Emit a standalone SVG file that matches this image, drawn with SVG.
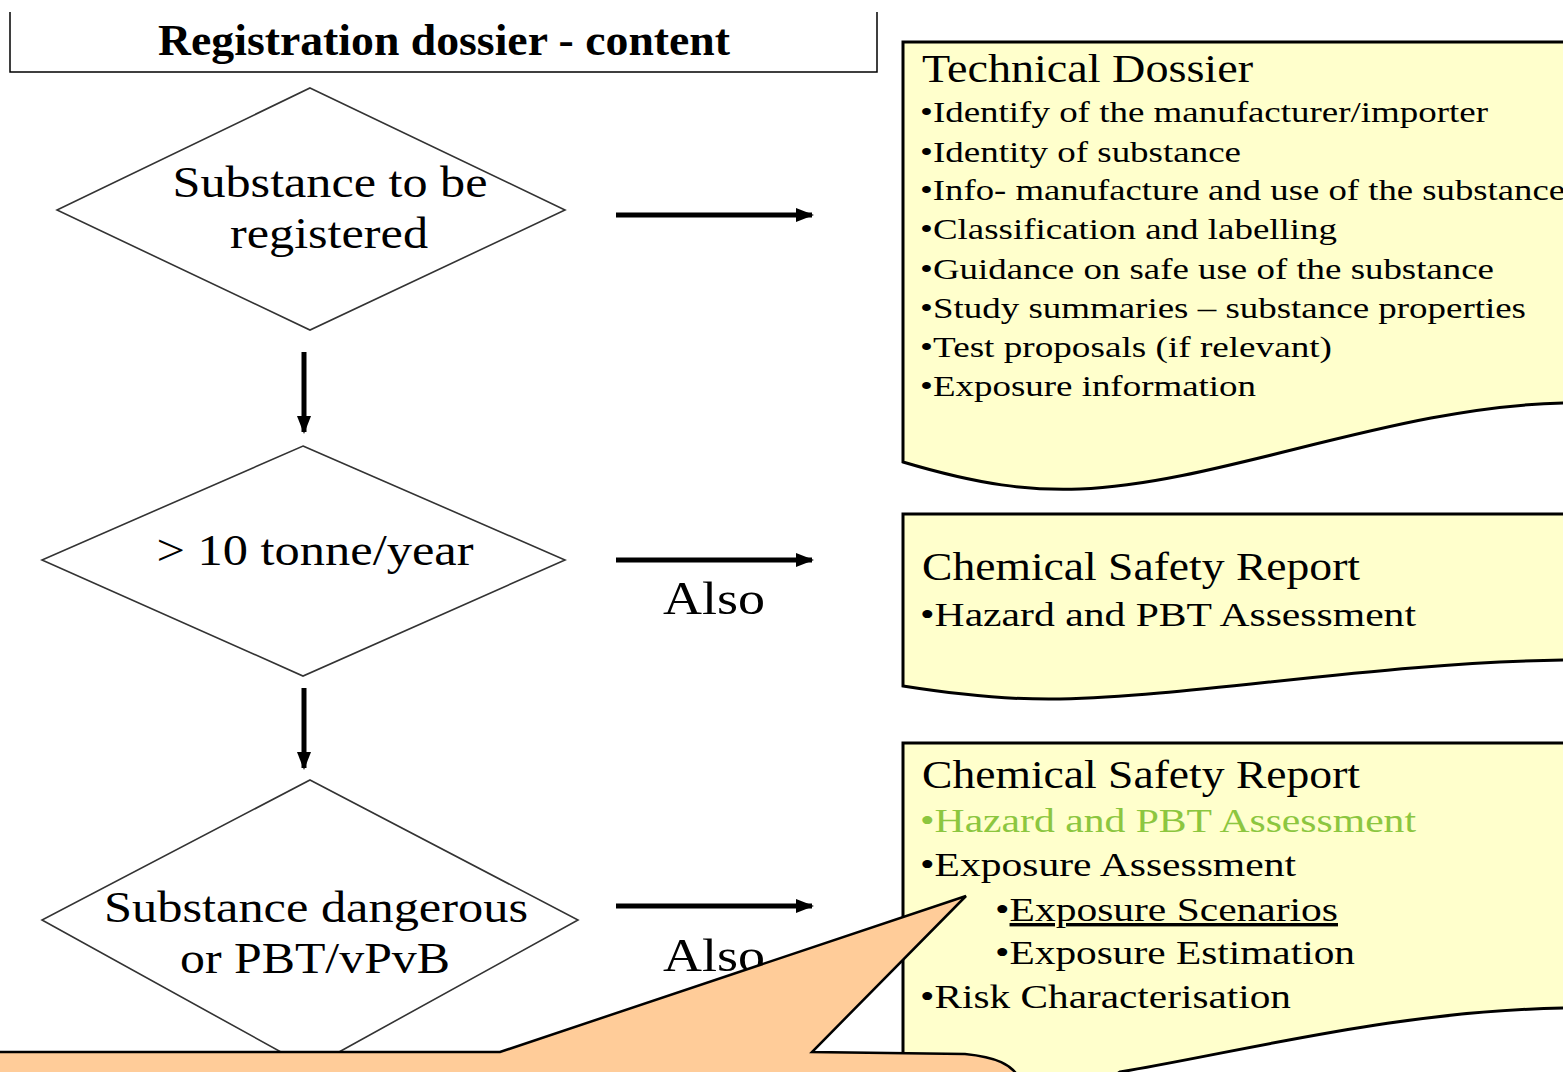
<svg xmlns="http://www.w3.org/2000/svg" width="1563" height="1072" viewBox="0 0 1563 1072">
<style>
  text { font-family: "Liberation Serif", "Times New Roman", serif; fill: #000; }
  .title { font-size: 44px; font-weight: bold; }
  .dia { fill: #fff; stroke: #333; stroke-width: 1.6; }
  .dt { font-size: 44px; text-anchor: middle; }
  .also { font-size: 46px; }
  .doc { fill: #FFFFCC; stroke: #000; stroke-width: 3; }
  .h { font-size: 40px; }
  .b { font-size: 30px; }
  .b2 { font-size: 34px; }
  .green { fill: #8CC63F; }
  .conn { stroke: #000; stroke-width: 5; fill: none; }
  .call { fill: #FFCC99; stroke: #000; stroke-width: 2.5; stroke-linejoin: miter; }
  .ul { text-decoration: underline; }
</style>
<defs>
  <marker id="ah" markerUnits="userSpaceOnUse" markerWidth="18" markerHeight="18" viewBox="0 0 18 18" refX="16" refY="9" orient="auto">
    <path d="M0,2 L18,9 L0,16 Z" fill="#000"/>
  </marker>
</defs>

<g id="title">
  <path d="M10,12 L10,72 L877,72 L877,12" fill="none" stroke="#000" stroke-width="1.5"/>
  <text class="title" x="158" y="55" textLength="572" lengthAdjust="spacingAndGlyphs">Registration dossier - content</text>
</g>

<g id="connectors">
  <line class="conn" x1="304" y1="352" x2="304" y2="432" marker-end="url(#ah)"/>
  <line class="conn" x1="304" y1="688" x2="304" y2="768" marker-end="url(#ah)"/>
  <line class="conn" x1="616" y1="215" x2="812" y2="215" marker-end="url(#ah)"/>
  <line class="conn" x1="616" y1="560" x2="812" y2="560" marker-end="url(#ah)"/>
  <line class="conn" x1="616" y1="906" x2="812" y2="906" marker-end="url(#ah)"/>
  <text class="also" x="663" y="614" textLength="102" lengthAdjust="spacingAndGlyphs">Also</text>
  <text class="also" x="663" y="971" textLength="102" lengthAdjust="spacingAndGlyphs">Also</text>
</g>

<g id="node-substance">
  <polygon class="dia" points="310,88 565,210 310,330 57,210"/>
  <text class="dt" x="330" y="197" textLength="315" lengthAdjust="spacingAndGlyphs">Substance to be</text>
  <text class="dt" x="329" y="248" textLength="198" lengthAdjust="spacingAndGlyphs">registered</text>
</g>

<g id="node-tonnage">
  <polygon class="dia" points="303,446 565,560 303,676 42,560"/>
  <text class="dt" x="315" y="565" textLength="317" lengthAdjust="spacingAndGlyphs">&gt; 10 tonne/year</text>
</g>

<g id="node-dangerous">
  <polygon class="dia" points="310,780 578,920 310,1068 42,920"/>
  <text class="dt" x="316" y="922" textLength="424" lengthAdjust="spacingAndGlyphs">Substance dangerous</text>
  <text class="dt" x="315" y="973" textLength="270" lengthAdjust="spacingAndGlyphs">or PBT/vPvB</text>
</g>

<g id="doc-technical">
  <path class="doc" d="M903,42 L1570,42 L1570,403 C1400,404 1220,484 1080,489 C1030,491 980,485 903,462 Z"/>
  <text class="h" x="922" y="82" textLength="331" lengthAdjust="spacingAndGlyphs">Technical Dossier</text>
  <text class="b" x="920" y="122" textLength="568" lengthAdjust="spacingAndGlyphs">•Identify of the manufacturer/importer</text>
  <text class="b" x="920" y="162" textLength="321" lengthAdjust="spacingAndGlyphs">•Identity of substance</text>
  <text class="b" x="920" y="200" textLength="645" lengthAdjust="spacingAndGlyphs">•Info- manufacture and use of the substance</text>
  <text class="b" x="920" y="239" textLength="417" lengthAdjust="spacingAndGlyphs">•Classification and labelling</text>
  <text class="b" x="920" y="279" textLength="574" lengthAdjust="spacingAndGlyphs">•Guidance on safe use of the substance</text>
  <text class="b" x="920" y="318" textLength="606" lengthAdjust="spacingAndGlyphs">•Study summaries – substance properties</text>
  <text class="b" x="920" y="357" textLength="412" lengthAdjust="spacingAndGlyphs">•Test proposals (if relevant)</text>
  <text class="b" x="920" y="396" textLength="336" lengthAdjust="spacingAndGlyphs">•Exposure information</text>
</g>

<g id="doc-csr1">
  <path class="doc" d="M903,514 L1570,514 L1570,660 C1380,662 1200,696 1060,699 C1010,700 960,695 903,686 Z"/>
  <text class="h" x="922" y="580" textLength="438" lengthAdjust="spacingAndGlyphs">Chemical Safety Report</text>
  <text class="b2" x="920" y="626" textLength="496" lengthAdjust="spacingAndGlyphs">•Hazard and PBT Assessment</text>
</g>

<g id="doc-csr2">
  <path class="doc" d="M903,743 L1570,743 L1570,1008 C1400,1010 1250,1050 1120,1072 L1100,1085 L903,1085 Z"/>
  <text class="h" x="922" y="788" textLength="438" lengthAdjust="spacingAndGlyphs">Chemical Safety Report</text>
  <text class="b2 green" x="920" y="832" textLength="496" lengthAdjust="spacingAndGlyphs">•Hazard and PBT Assessment</text>
  <text class="b2" x="920" y="876" textLength="376" lengthAdjust="spacingAndGlyphs">•Exposure Assessment</text>
  <text class="b2" x="995" y="921" textLength="343" lengthAdjust="spacingAndGlyphs">•<tspan class="ul">Exposure Scenarios</tspan></text>
  <text class="b2" x="995" y="964" textLength="360" lengthAdjust="spacingAndGlyphs">•Exposure Estimation</text>
  <text class="b2" x="920" y="1008" textLength="371" lengthAdjust="spacingAndGlyphs">•Risk Characterisation</text>
</g>

<g id="callout">
  <path class="call" d="M-10,1052 L500,1052 L966,896 L812,1052 L965,1054 C995,1057 1013,1064 1020,1080 L-10,1080 Z"/>
</g>
</svg>
